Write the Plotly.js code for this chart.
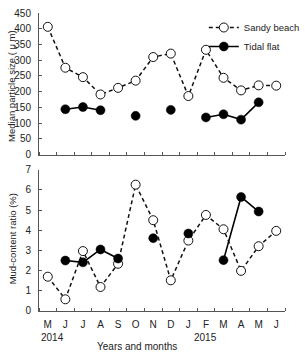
<!DOCTYPE html>
<html>
<head>
<meta charset="utf-8">
<script src="https://cdn.plot.ly/plotly-3.0.1.min.js"></script>
<style>
  html, body { margin: 0; padding: 0; background: #fff; }
  #chart { width: 305px; height: 352px; }
</style>
</head>
<body>
<div id="chart"></div>
<script>
// Monthly survey, May 2014 – June 2015
const months = ["M", "J", "J", "A", "S", "O", "N", "D", "J", "F", "M", "A", "M", "J"];
const years = ["2014", "2015"];
const yearAt = [0.26, 9];

// Median particle size (µm)
const sizeSandy = [406, 276, 246, 191, 212, 235, 310, 321, 186, 333, 244, 204, 220, 219];
const sizeTidal = [null, 144, 151, 141, null, 123, null, 142, null, 118, 128, 111, 166, null];

// Mud-content ratio (%)
const mudSandy = [1.70, 0.58, 2.97, 1.19, 2.34, 6.26, 4.50, 1.52, 3.49, 4.76, 4.05, 1.99, 3.21, 3.97];
const mudTidal = [null, 2.50, 2.41, 3.05, 2.60, null, 3.61, null, 3.84, null, 2.52, 5.65, 4.93, null];

const idx = months.map((_, i) => i);
const FONT = "Liberation Sans, Arial, sans-serif";
const INK = "#222";

const sandyStyle = {
  mode: "lines+markers",
  line: { color: "#111", width: 1.5, dash: "4px,3px" },
  marker: { symbol: "circle", size: 9, color: "#fff", line: { color: "#111", width: 1 } },
  connectgaps: false
};
const tidalStyle = {
  mode: "lines+markers",
  line: { color: "#000", width: 1.6 },
  marker: { symbol: "circle", size: 9, color: "#000", line: { color: "#000", width: 0.5 } },
  connectgaps: false
};

const data = [
  Object.assign({ x: idx, y: sizeSandy, name: "Sandy beach", xaxis: "x", yaxis: "y" }, sandyStyle),
  Object.assign({ x: idx, y: sizeTidal, name: "Tidal flat", xaxis: "x", yaxis: "y" }, tidalStyle),
  Object.assign({ x: idx, y: mudSandy, name: "Sandy beach", xaxis: "x2", yaxis: "y2", showlegend: false }, sandyStyle),
  Object.assign({ x: idx, y: mudTidal, name: "Tidal flat", xaxis: "x2", yaxis: "y2", showlegend: false }, tidalStyle)
];

function xAxis(anchor, labels) {
  return {
    anchor: anchor,
    range: [-0.5, months.length - 0.5],
    tickmode: "array",
    tickvals: idx,
    ticktext: labels ? months : months.map(() => ""),
    showticklabels: labels,
    ticks: "",
    ticklabelstandoff: 4,
    showgrid: false,
    zeroline: false,
    showline: true,
    linecolor: "#555",
    linewidth: 1,
    tickfont: { family: FONT, size: 10, color: INK },
    minor: { tick0: -0.5, dtick: 1, ticks: "inside", ticklen: 3, tickcolor: "#555", showgrid: false }
  };
}

function yAxis(domain, range, dtick) {
  return {
    domain: domain,
    range: range,
    dtick: dtick,
    ticks: "inside",
    ticklen: 3,
    tickcolor: "#555",
    ticklabelstandoff: 5,
    showgrid: false,
    zeroline: false,
    showline: true,
    linecolor: "#555",
    linewidth: 1,
    tickfont: { family: FONT, size: 10, color: INK }
  };
}

const txt = { family: FONT, size: 10, color: INK };
const titleFont = { family: FONT, size: 9.5, color: INK };
const annotations = years.map((t, k) => ({
  text: t, x: yearAt[k], xref: "x2", y: 0, yref: "paper", yanchor: "middle", yshift: -26,
  showarrow: false, font: txt
}));
annotations.push(
  { text: "Years and months", x: 0.4, xref: "paper", y: 0, yref: "paper", yanchor: "middle", yshift: -35,
    showarrow: false, font: txt },
  // vertical axis titles, one per panel
  { text: "Median particle size ( μ m)", textangle: -90, x: 0, xref: "paper", xshift: -27,
    y: 0.762, yref: "paper", yshift: -2, xanchor: "center", yanchor: "middle", showarrow: false, font: titleFont },
  { text: "Mud-content ratio (%)", textangle: -90, x: 0, xref: "paper", xshift: -27,
    y: 0.237, yref: "paper", yshift: 1, xanchor: "center", yanchor: "middle", showarrow: false, font: titleFont }
);

const layout = {
  width: 305, height: 352,
  margin: { l: 39, r: 0, t: 13, b: 41 },
  paper_bgcolor: "#fff", plot_bgcolor: "#fff",
  font: txt,
  xaxis: xAxis("y", false),
  xaxis2: xAxis("y2", true),
  yaxis: yAxis([0.525, 1], [0, 450], 50),
  yaxis2: yAxis([0, 0.474], [0, 7], 1),
  showlegend: true,
  legend: {
    x: 0.67, y: 1.0, xanchor: "left", yanchor: "top",
    bgcolor: "rgba(0,0,0,0)", font: { family: FONT, size: 9.5, color: INK },
    itemwidth: 30, tracegroupgap: 0
  },
  annotations: annotations
};

Plotly.newPlot("chart", data, layout, { staticPlot: true, displayModeBar: false });
</script>
</body>
</html>
